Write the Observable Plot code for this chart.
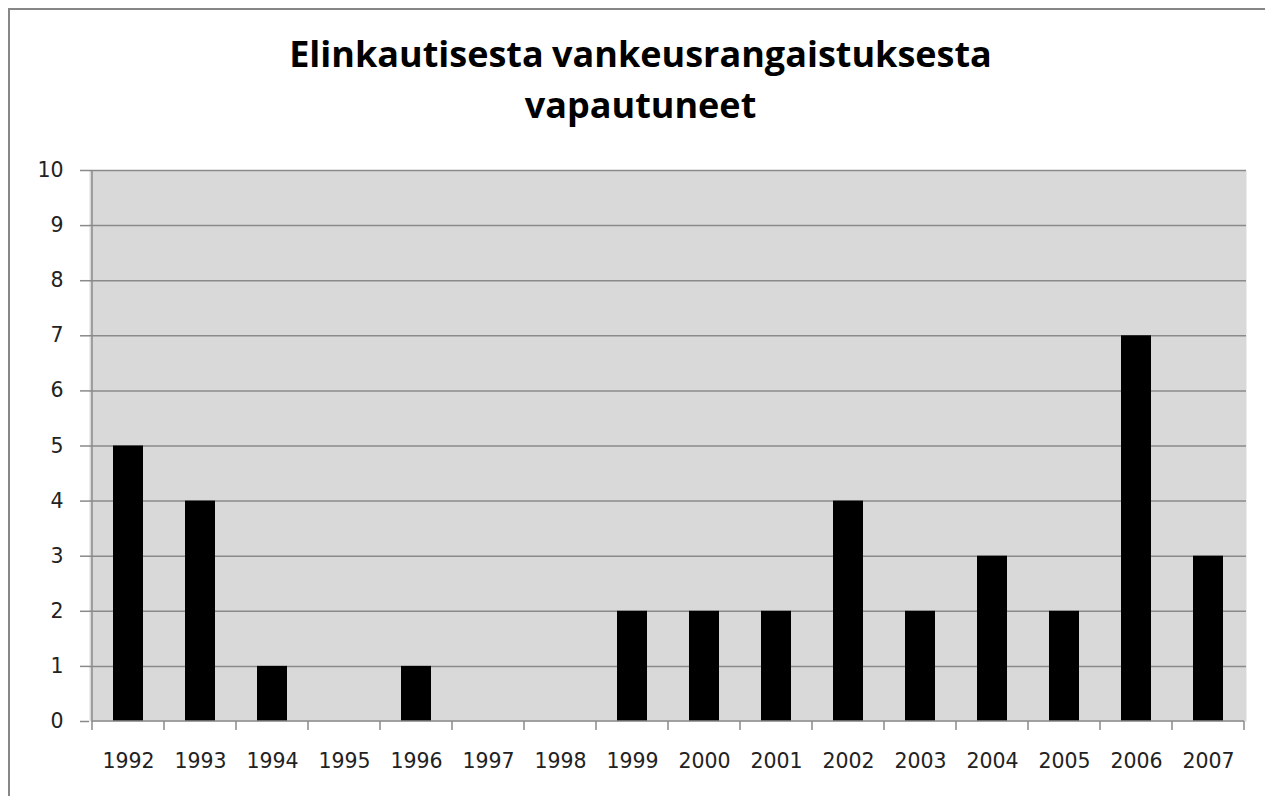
<!DOCTYPE html>
<html>
<head>
<meta charset="utf-8">
<script src="https://cdn.jsdelivr.net/npm/d3@7"></script>
<script src="https://cdn.jsdelivr.net/npm/@observablehq/plot@0.6"></script>
<style>
  html, body { margin: 0; padding: 0; background: #fff; width: 1265px; height: 796px; overflow: hidden; }
  #frame { position: absolute; left: 8px; top: 8px; width: 1270px; height: 800px; border-left: 2px solid #878787; border-top: 2px solid #878787; box-sizing: border-box; }
  #title { position: absolute; left: 8px; width: 1265px; top: 28px; text-align: center; font-family: "Open Sans", Lato, sans-serif; font-weight: bold; font-size: 36px; line-height: 51px; color: #000; font-variant-ligatures: none; word-spacing: -1px; }
  #chart { position: absolute; left: 0; top: 150px; }
  #chart svg text { font-size: 20.5px; font-family: "DejaVu Sans", sans-serif; fill: #222; }
</style>
</head>
<body>
<div id="frame"></div>
<div id="title">Elinkautisesta vankeusrangaistuksesta<br>vapautuneet</div>
<div id="chart"></div>
<script>
const titleText = "Elinkautisesta vankeusrangaistuksesta vapautuneet";
const years = ["1992","1993","1994","1995","1996","1997","1998","1999","2000","2001","2002","2003","2004","2005","2006","2007"];
const released = [5, 4, 1, 0, 1, 0, 0, 2, 2, 2, 4, 2, 3, 2, 7, 3];
const yTicks = [0,1,2,3,4,5,6,7,8,9,10];

const data = years.map((y, i) => ({year: y, value: released[i]}));

const gridColor = "#8a8a8a";

function axisDecor(index, scales, values, dimensions) {
  const x = scales.x, y = scales.y;
  const step = x(years[1]) - x(years[0]);
  const g = d3.create("svg:g");
  const x0 = x(years[0]);
  const y0 = y(0), y1 = y(10);
  g.append("line").attr("x1", x0).attr("x2", x0).attr("y1", y1).attr("y2", y0 + 0.5)
    .attr("stroke", gridColor).attr("stroke-width", 1.5);
  g.append("line").attr("x1", x0).attr("x2", x(years[years.length-1]) + step).attr("y1", y0).attr("y2", y0)
    .attr("stroke", gridColor).attr("stroke-width", 1.5);
  const bounds = years.map(d => x(d)).concat([x(years[years.length-1]) + step]);
  for (const b of bounds) {
    g.append("line").attr("x1", b).attr("x2", b).attr("y1", y0).attr("y2", y0 + 9)
      .attr("stroke", gridColor).attr("stroke-width", 1.5);
  }
  return g.node();
}

const chart = Plot.plot({
  width: 1265,
  height: 640,
  marginLeft: 89,
  marginRight: 19,
  marginTop: 20,
  marginBottom: 69,
  style: {fontFamily: "DejaVu Sans, sans-serif", fontSize: "20.5px", color: "#222", background: "transparent", overflow: "visible"},
  x: {type: "band", domain: years, padding: 0, label: null},
  y: {domain: [0, 10], label: null},
  marks: [
    Plot.frame({fill: "#d9d9d9", stroke: "none"}),
    Plot.ruleY(yTicks.filter(d => d > 0), {stroke: gridColor, strokeWidth: 1.5}),
    Plot.barY(data, {x: "year", y: "value", fill: "#000", insetLeft: 21, insetRight: 21}),
    axisDecor,
    Plot.axisY({ticks: yTicks, tickSize: 9, tickPadding: 17, stroke: gridColor, strokeWidth: 1.5, fontSize: 20.5, label: null, tickFormat: d => String(d)}),
    Plot.axisX({tickSize: 0, tickPadding: 32, fontSize: 20.5, label: null})
  ]
});
document.getElementById("chart").appendChild(chart);
</script>
</body>
</html>
